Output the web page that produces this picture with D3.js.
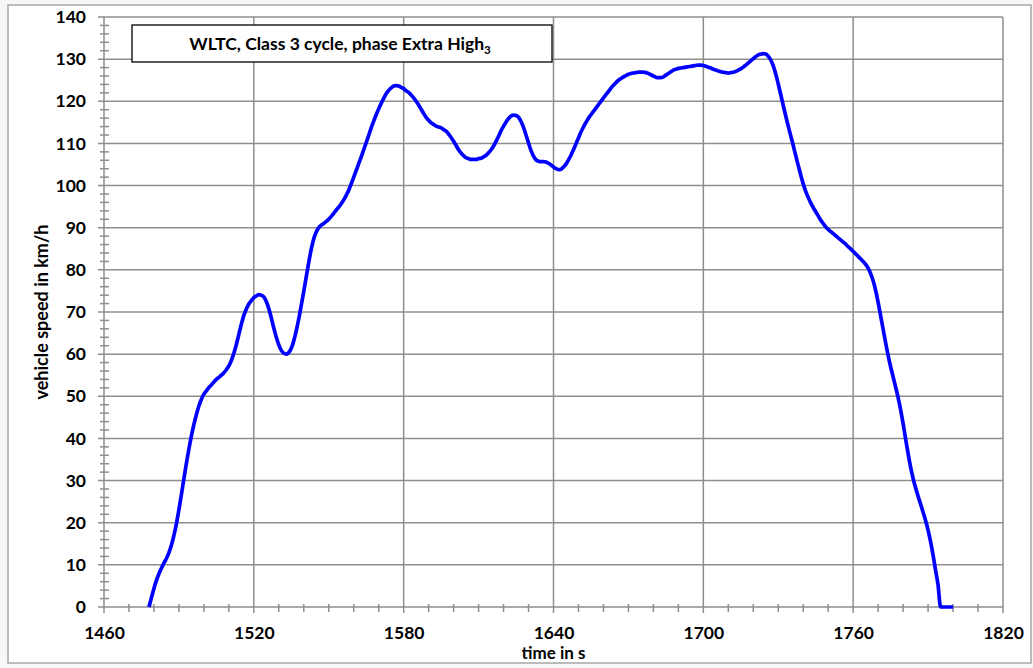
<!DOCTYPE html>
<html>
<head>
<meta charset="utf-8">
<script src="https://cdn.jsdelivr.net/npm/d3@7"></script>
<style>
body { margin: 0; background: #f7f7f7; }
svg { display: block; }
.lbl { font-family: Lato, "Open Sans", sans-serif; font-weight: bold; fill: #000; }
</style>
</head>
<body>
<div id="chart"></div>
<script>
'use strict'

// WLTC class 3, extra high phase, one value per second starting at t = 1478 s
const startTime = 1478
const speeds = [
	0.0, 2.2, 4.4, 6.3, 7.9, 9.2, 10.4, 11.5, 12.9, 14.7, 17.0, 19.8, 23.1, 26.7, 30.5, 34.1, 37.5, 40.6, 43.3, 45.7,
	47.7, 49.3, 50.5, 51.3, 52.1, 52.7, 53.4, 54.0, 54.5, 55.0, 55.6, 56.3, 57.2, 58.5, 60.2, 62.3, 64.7, 67.1, 69.2, 70.7,
	71.9, 72.7, 73.4, 73.8, 74.1, 74.0, 73.6, 72.5, 70.8, 68.6, 66.2, 64.0, 62.2, 60.9, 60.2, 60.0, 60.4, 61.4, 63.2, 65.6,
	68.4, 71.6, 74.9, 78.4, 81.8, 84.9, 87.4, 89.0, 90.0, 90.6, 91.0, 91.5, 92.0, 92.7, 93.4, 94.2, 94.9, 95.7, 96.6, 97.7,
	98.9, 100.4, 102.0, 103.6, 105.2, 106.8, 108.5, 110.2, 111.9, 113.7, 115.3, 116.8, 118.2, 119.5, 120.7, 121.8, 122.6, 123.2, 123.6, 123.7,
	123.6, 123.3, 123.0, 122.5, 122.1, 121.5, 120.8, 120.0, 119.1, 118.1, 117.1, 116.2, 115.5, 114.9, 114.5, 114.1, 113.9, 113.7, 113.3, 112.9,
	112.2, 111.4, 110.5, 109.5, 108.5, 107.7, 107.1, 106.6, 106.4, 106.2, 106.2, 106.2, 106.4, 106.5, 106.8, 107.2, 107.8, 108.5, 109.4, 110.5,
	111.7, 113.0, 114.1, 115.1, 115.9, 116.5, 116.7, 116.6, 116.2, 115.2, 113.8, 112.0, 110.1, 108.3, 107.0, 106.1, 105.8, 105.7, 105.7, 105.6,
	105.3, 104.9, 104.4, 104.0, 103.8, 103.9, 104.4, 105.1, 106.1, 107.2, 108.5, 109.9, 111.3, 112.7, 113.9, 115.0, 116.0, 116.8, 117.6, 118.4,
	119.2, 120.0, 120.8, 121.6, 122.3, 123.1, 123.8, 124.4, 125.0, 125.4, 125.8, 126.1, 126.4, 126.6, 126.7, 126.8, 126.9, 126.9, 126.9, 126.8,
	126.6, 126.3, 126.0, 125.7, 125.6, 125.6, 125.8, 126.2, 126.6, 127.0, 127.4, 127.6, 127.8, 127.9, 128.0, 128.1, 128.2, 128.3, 128.4, 128.5,
	128.6, 128.6, 128.5, 128.3, 128.1, 127.9, 127.6, 127.4, 127.2, 127.0, 126.9, 126.8, 126.7, 126.8, 126.9, 127.1, 127.4, 127.7, 128.1, 128.6,
	129.1, 129.6, 130.1, 130.6, 131.0, 131.2, 131.3, 131.2, 130.7, 129.8, 128.4, 126.5, 124.1, 121.6, 119.0, 116.5, 114.1, 111.8, 109.5, 107.1,
	104.8, 102.5, 100.4, 98.6, 97.2, 95.9, 94.8, 93.8, 92.8, 91.8, 91.0, 90.2, 89.6, 89.1, 88.6, 88.1, 87.6, 87.1, 86.6, 86.1,
	85.5, 85.0, 84.4, 83.8, 83.2, 82.6, 82.0, 81.3, 80.4, 79.1, 77.4, 75.1, 72.3, 69.1, 65.9, 62.7, 59.7, 57.0, 54.6, 52.2,
	49.7, 46.8, 43.5, 39.9, 36.4, 33.2, 30.5, 28.3, 26.3, 24.4, 22.5, 20.5, 18.2, 15.5, 12.3, 8.7, 5.2, 0.0, 0.0, 0.0,
	0.0, 0.0, 0.0
]

const xTicks = [1460, 1520, 1580, 1640, 1700, 1760, 1820]
const yTicks = [0, 10, 20, 30, 40, 50, 60, 70, 80, 90, 100, 110, 120, 130, 140]
const titleText = "WLTC, Class 3 cycle, phase Extra High"
const titleSub = "3"
const xTitle = "time in s"
const yTitle = "vehicle speed in km/h"

const width = 1033, height = 668
const plot = {left: 104, right: 1003, top: 17, bottom: 607}
const grid = "#8e8e8e"

let svg = d3.select("#chart").append("svg")
	.attr("width", width)
	.attr("height", height)

// outer frame
svg.append("rect")
	.attr("x", 8).attr("y", 5)
	.attr("width", 1023).attr("height", 658)
	.attr("fill", "#fff")
	.attr("stroke", "#a6a6a6")
	.attr("stroke-width", 1.5)

let xScale = d3.scaleLinear().domain([1460, 1820]).range([plot.left, plot.right])
let yScale = d3.scaleLinear().domain([0, 140]).range([plot.bottom, plot.top])

// grid lines
let gridG = svg.append("g").attr("stroke", grid).attr("stroke-width", 1.5)
gridG.selectAll(".hg").data(yTicks).enter().append("line")
	.attr("x1", plot.left - 6).attr("x2", plot.right)
	.attr("y1", d => yScale(d)).attr("y2", d => yScale(d))
gridG.selectAll(".vg").data(xTicks).enter().append("line")
	.attr("x1", d => xScale(d)).attr("x2", d => xScale(d))
	.attr("y1", plot.top).attr("y2", plot.bottom + 6)

// minor ticks
let xMinor = d3.range(1470, 1820, 10).filter(d => xTicks.indexOf(d) < 0)
let yMinor = d3.range(2, 140, 2).filter(d => yTicks.indexOf(d) < 0)
gridG.selectAll(".xm").data(xMinor).enter().append("line")
	.attr("x1", d => xScale(d)).attr("x2", d => xScale(d))
	.attr("y1", plot.bottom - 3).attr("y2", plot.bottom + 5)
gridG.selectAll(".ym").data(yMinor).enter().append("line")
	.attr("x1", plot.left - 4).attr("x2", plot.left + 5)
	.attr("y1", d => yScale(d)).attr("y2", d => yScale(d))

// tick labels through the axes
let xAxis = svg.append("g")
	.attr("transform", "translate(0," + plot.bottom + ")")
	.call(d3.axisBottom(xScale).tickValues(xTicks).tickSize(0).tickPadding(20).tickFormat(d3.format("d")))
let yAxis = svg.append("g")
	.attr("transform", "translate(" + plot.left + ",0)")
	.call(d3.axisLeft(yScale).tickValues(yTicks).tickSize(0).tickPadding(18))
;[xAxis, yAxis].forEach(function(a){
	a.select(".domain").remove()
	a.selectAll("text")
		.attr("class", "lbl")
		.style("font-size", "17.5px")
		.attr("fill", "#000")
})

// series
let line = d3.line()
	.x((d, i) => xScale(startTime + i))
	.y(d => yScale(d))
	.curve(d3.curveMonotoneX)

svg.append("path")
	.datum(speeds)
	.attr("d", line)
	.attr("fill", "none")
	.attr("stroke", "#0000ff")
	.attr("stroke-width", 3.7)
	.attr("stroke-linejoin", "round")

// title box
svg.append("rect")
	.attr("x", 132).attr("y", 25)
	.attr("width", 420).attr("height", 37)
	.attr("fill", "#fff")
	.attr("stroke", "#000")
	.attr("stroke-width", 1.3)
let t = svg.append("text")
	.attr("class", "lbl")
	.attr("x", 340).attr("y", 50)
	.attr("text-anchor", "middle")
	.style("font-size", "17.5px")
t.append("tspan").text(titleText)
t.append("tspan").text(titleSub).attr("dy", 4).style("font-size", "11.5px")

// axis titles
svg.append("text")
	.attr("class", "lbl")
	.attr("x", (plot.left + plot.right) / 2).attr("y", 659)
	.attr("text-anchor", "middle")
	.style("font-size", "17px")
	.text(xTitle)
svg.append("text")
	.attr("class", "lbl")
	.attr("transform", "translate(48,312) rotate(-90)")
	.attr("text-anchor", "middle")
	.style("font-size", "18px")
	.text(yTitle)
</script>
</body>
</html>
